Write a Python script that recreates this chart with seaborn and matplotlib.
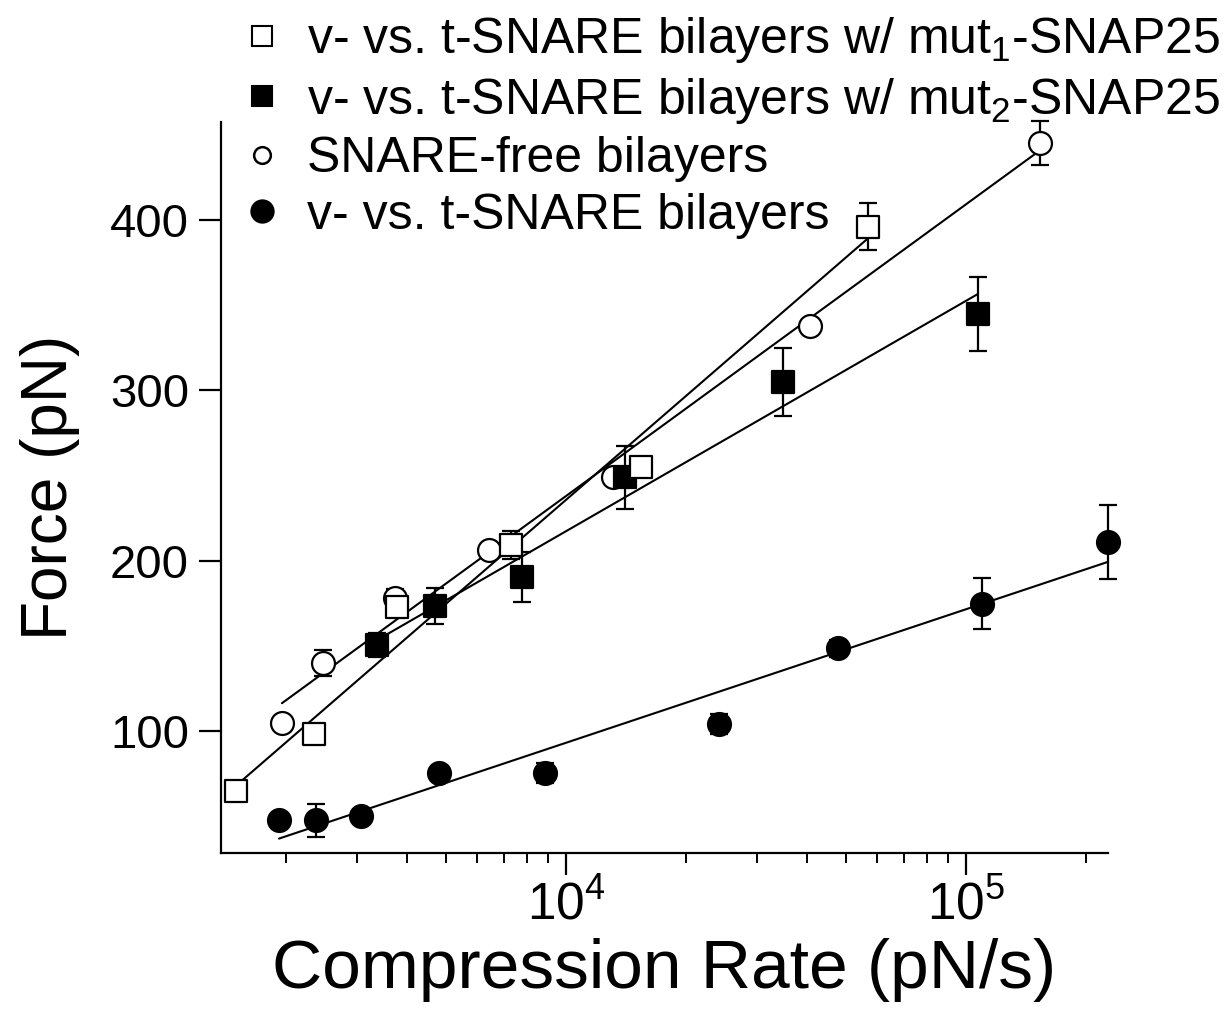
import numpy as np
import pandas as pd
import matplotlib
matplotlib.use("Agg")
import matplotlib.pyplot as plt
from matplotlib.lines import Line2D
from matplotlib.ticker import LogLocator, NullFormatter, FixedLocator
import seaborn as sns

# ---------------- data ----------------
# open squares: v- vs. t-SNARE bilayers w/ mut1-SNAP25
mut1_rate = [1496, 2344, 3781, 7288, 15400, 56900]
mut1_force = [64.8, 98.2, 172.8, 209.2, 255.0, 395.9]
mut1_err = [3, 3, 5, 8, 3, 13.8]

# filled squares: v- vs. t-SNARE bilayers w/ mut2-SNAP25
mut2_rate = [3370, 4704, 7762, 14040, 34870, 107150]
mut2_force = [150.5, 173.4, 190.4, 249.0, 304.9, 344.9]
mut2_err = [7.3, 10.3, 14.7, 18.5, 19.7, 21.7]

# open circles: SNARE-free bilayers
free_rate = [1950, 2469, 3737, 6420, 13110, 40740, 153000]
free_force = [104.7, 139.9, 178.1, 206.3, 249.1, 337.8, 445.2]
free_err = [3, 7.6, 5, 3, 3, 3, 13]

# filled circles: v- vs. t-SNARE bilayers
vt_rate = [1917, 2371, 3073, 4814, 8860, 24130, 47860, 109600, 226500]
vt_force = [47.7, 47.7, 50.1, 75.3, 75.3, 104.0, 148.7, 174.6, 211.0]
vt_err = [3, 9.7, 3, 3, 6, 6, 5, 15, 21.7]

labels = [
    "v- vs. t-SNARE bilayers w/ mut$_1$-SNAP25",
    "v- vs. t-SNARE bilayers w/ mut$_2$-SNAP25",
    "SNARE-free bilayers",
    "v- vs. t-SNARE bilayers",
]
y_ticks = [100, 200, 300, 400]

# ---------------- style ----------------
sns.set_theme(style="ticks")
plt.rcParams["font.family"] = ["Liberation Sans", "DejaVu Sans"]
plt.rcParams["mathtext.default"] = "regular"
plt.rcParams["mathtext.fontset"] = "custom"
plt.rcParams["mathtext.rm"] = "Liberation Sans"
plt.rcParams["mathtext.it"] = "Liberation Sans"
for key in ["text.color", "axes.labelcolor", "xtick.color", "ytick.color", "axes.edgecolor"]:
    plt.rcParams[key] = "black"

fig = plt.figure(figsize=(12.3, 10.1), dpi=100)
fig.patch.set_facecolor("white")
ax = fig.add_axes([221 / 1230, 1 - 853 / 1010, (1108 - 221) / 1230, (853 - 122) / 1010])
ax.set_facecolor("white")

series = [
    (free_rate, free_force, free_err, "o", "white"),
    (mut2_rate, mut2_force, mut2_err, "s", "black"),
    (mut1_rate, mut1_force, mut1_err, "s", "white"),
    (vt_rate, vt_force, vt_err, "o", "black"),
]

ms = 16.5
for rate, force, err, mk, fc in series:
    df = pd.DataFrame({"rate": rate, "force": force})
    sns.regplot(data=df, x="rate", y="force", logx=True, ci=None, scatter=False,
                truncate=True, ax=ax, line_kws=dict(color="black", lw=1.5, zorder=2))
for rate, force, err, mk, fc in series:
    eb = ax.errorbar(rate, force, yerr=err, fmt="none", ecolor="black", elinewidth=1.6,
                     capsize=6.5, capthick=1.6, zorder=3)
    for art in eb.lines[1] + eb.lines[2]:
        art.set_clip_on(False)
    sns.scatterplot(x=rate, y=force, ax=ax, marker=mk, s=ms ** 2, color=fc,
                    edgecolor="black", linewidth=1.6, zorder=4, legend=False,
                    clip_on=False)

ax.set_xscale("log")
ax.set_xlim(1373, 226500)
ax.set_ylim(28.4, 457.5)
ax.yaxis.set_major_locator(FixedLocator(y_ticks))
ax.xaxis.set_minor_locator(LogLocator(base=10, subs=np.arange(2, 10)))
ax.xaxis.set_minor_formatter(NullFormatter())

for s in ["top", "right"]:
    ax.spines[s].set_visible(False)
for s in ["left", "bottom"]:
    ax.spines[s].set_linewidth(1.6)
    ax.spines[s].set_color("black")

ax.tick_params(axis="both", which="major", direction="out", length=16, width=1.6,
               colors="black", labelsize=34)
ax.tick_params(axis="x", which="major", pad=4, labelsize=37)
ax.tick_params(axis="y", which="major", pad=7)
ax.tick_params(axis="x", which="minor", direction="out", length=7, width=1.4, colors="black")
ax.tick_params(axis="y", which="minor", length=0)

ax.set_xlabel("Compression Rate (pN/s)", fontsize=50, va="center", color="black")
ax.set_ylabel("Force (pN)", fontsize=46, va="center", color="black")
ax.xaxis.set_label_coords(0.5, (853 - 970) / 731)
ax.yaxis.set_label_coords((50 - 221) / 887, 0.5)

handles = [
    Line2D([], [], ls="none", marker="s", ms=14, mfc="white", mec="black", mew=1.5),
    Line2D([], [], ls="none", marker="s", ms=14, mfc="black", mec="black", mew=1.5),
    Line2D([], [], ls="none", marker="o", ms=12, mfc="white", mec="black", mew=1.8),
    Line2D([], [], ls="none", marker="o", ms=16, mfc="black", mec="black", mew=1.5),
]
fig.legend(handles, labels, loc="upper left", bbox_to_anchor=(237 / 1230, 0.985),
           frameon=False, fontsize=36, handlelength=1.0, handletextpad=0.4,
           labelspacing=0.21, borderpad=0, borderaxespad=0, labelcolor="black")

fig.savefig("out.png", dpi=100, facecolor="white")
